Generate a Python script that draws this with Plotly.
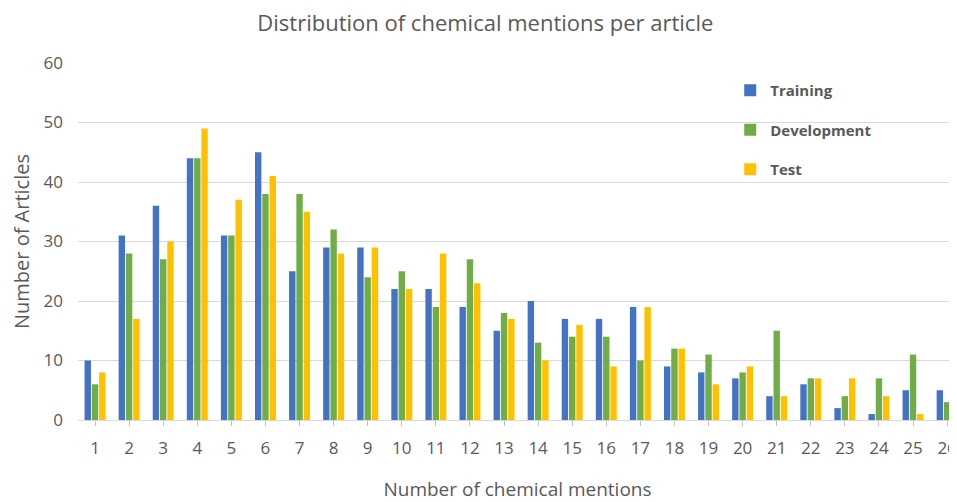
import plotly.graph_objects as go

categories = list(range(1, 27))
training = [10, 31, 36, 44, 31, 45, 25, 29, 29, 22, 22, 19, 15, 20, 17, 17, 19, 9, 8, 7, 4, 6, 2, 1, 5, 5]
development = [6, 28, 27, 44, 31, 38, 38, 32, 24, 25, 19, 27, 18, 13, 14, 14, 10, 12, 11, 8, 15, 7, 4, 7, 11, 3]
test = [8, 17, 30, 49, 37, 41, 35, 28, 29, 22, 28, 23, 17, 10, 16, 9, 19, 12, 6, 9, 4, 7, 7, 4, 1, 6]
y_ticks = [0, 10, 20, 30, 40, 50, 60]

series = [
    ("Training", training, "#4472C4"),
    ("Development", development, "#70AD47"),
    ("Test", test, "#FFC000"),
]

fig = go.Figure()
for i, (name, vals, color) in enumerate(series):
    fig.add_trace(go.Bar(
        x=categories, y=vals, name=name, marker_color=color,
        marker_line_width=0, legendgroup=f"g{i}",
    ))

font_family = "Open Sans, Noto Sans, sans-serif"
# page body has an 8px margin: figure is sized so it fills the 957x502 window
fig.update_layout(
    width=949, height=494,
    paper_bgcolor="white", plot_bgcolor="white",
    margin=dict(l=70, r=0, t=55, b=82, autoexpand=False),
    barmode="group", bargap=0.36, bargroupgap=0.12,
    font=dict(family=font_family, color="#595959"),
    title=dict(text="Distribution of chemical mentions per article",
               x=0.503, xanchor="center", y=1 - 15 / 494, yanchor="middle",
               font=dict(size=22, color="#595959", family=font_family)),
    legend=dict(x=0.742, y=0.969, xanchor="left", yanchor="top",
                bgcolor="rgba(0,0,0,0)", tracegroupgap=17,
                font=dict(size=15, color="#595959", family=font_family, weight="bold"),
                itemwidth=30),
    xaxis=dict(
        tickmode="array", tickvals=categories, ticktext=[str(c) for c in categories],
        range=[0.5, 26.29], showgrid=False, automargin=False,
        ticks="outside", ticklen=5, tickcolor="#bfbfbf",
        showline=True, linecolor="#d9d9d9", linewidth=1,
        ticklabelstandoff=8,
        tickfont=dict(size=17, color="#595959"),
        title=dict(text="Number of chemical mentions", font=dict(size=19, color="#595959"), standoff=38),
    ),
    yaxis=dict(
        range=[0, 60], tickvals=y_ticks, showgrid=True, gridcolor="#d9d9d9", gridwidth=1,
        zeroline=False, ticks="", automargin=False, ticklabelstandoff=14,
        tickfont=dict(size=17, color="#595959"),
        title=dict(text="Number of Articles", font=dict(size=20, color="#595959"), standoff=20),
    ),
)

fig.write_html("out.html")
